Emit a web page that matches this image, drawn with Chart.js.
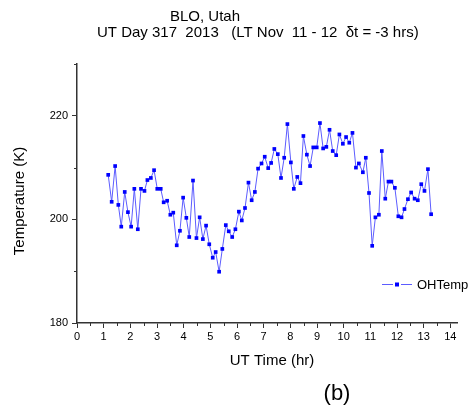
<!DOCTYPE html>
<html>
<head>
<meta charset="utf-8">
<script src="https://cdn.jsdelivr.net/npm/chart.js@4/dist/chart.umd.min.js"></script>
<style>
  body { margin: 0; background: #fff; }
  canvas { display: block; }
</style>
</head>
<body>
<canvas id="ohChart" width="474" height="410"></canvas>
<script>
// UT time (hr) of each OH temperature sample
var utTimes = [
  1.17, 1.30, 1.43, 1.55, 1.66, 1.79, 1.91, 2.03, 2.15, 2.28, 2.40, 2.53, 2.64, 2.77, 2.89, 3.01, 3.14, 3.25, 3.38, 3.50, 3.61, 3.74, 3.86, 3.98, 4.10, 4.21,
  4.35, 4.48, 4.60, 4.72, 4.84, 4.96, 5.09, 5.20, 5.33, 5.45, 5.58, 5.69, 5.82, 5.94, 6.07, 6.18, 6.30, 6.43, 6.55, 6.67, 6.79, 6.92, 7.04, 7.17, 7.28, 7.40,
  7.53, 7.65, 7.77, 7.89, 8.02, 8.13, 8.26, 8.38, 8.49, 8.62, 8.74, 8.86, 8.99, 9.11, 9.23, 9.35, 9.47, 9.59, 9.72, 9.84, 9.97, 10.09, 10.21, 10.33, 10.46, 10.57,
  10.72, 10.83, 10.95, 11.07, 11.19, 11.32, 11.43, 11.56, 11.68, 11.79, 11.92, 12.05, 12.17, 12.28, 12.41, 12.53, 12.66, 12.78, 12.91, 13.03, 13.16, 13.28
];

// OH temperature (K)
var ohTemp = [
  208.6, 203.4, 210.3, 202.8, 198.6, 205.3, 201.4, 198.6, 205.9, 198.1, 205.9, 205.5, 207.6, 208.0, 209.5, 205.9, 205.9, 203.3, 203.6, 200.9, 201.3, 195.0, 197.8, 204.2, 200.3, 196.6,
  207.5, 196.4, 200.4, 196.2, 198.8, 195.2, 192.6, 193.7, 189.9, 194.3, 198.9, 197.7, 196.6, 198.1, 201.5, 199.8, 202.2, 207.1, 203.7, 205.3, 209.8, 210.8, 212.1, 209.9, 210.9, 213.6,
  212.6, 208.0, 211.9, 218.4, 211.0, 205.9, 208.2, 207.0, 216.1, 212.5, 210.3, 213.9, 213.9, 218.6, 213.7, 214.0, 217.3, 213.2, 212.4, 216.4, 214.6, 215.9, 214.8, 216.7, 210.0, 210.8,
  209.1, 211.9, 205.1, 194.9, 200.4, 200.9, 213.2, 204.0, 207.3, 207.3, 206.1, 200.6, 200.4, 202.0, 203.9, 205.2, 204.0, 203.7, 206.8, 205.5, 209.7, 201.0
];

var seriesName = 'OHTemp';
var titleLines = ['BLO, Utah', 'UT Day 317  2013   (LT Nov  11 - 12  \u03B4t = -3 hrs)'];
var xTitle = 'UT Time (hr)';
var yTitle = 'Temperature (K)';
var panelLabel = '(b)';

var points = [];
for (var i = 0; i < utTimes.length; i++) {
  points.push({ x: utTimes[i], y: ohTemp[i] });
}

var FONT = '"Liberation Sans", Arial, sans-serif';
var AXIS = '#333';

// minor ticks, legend and all free text
var extras = {
  id: 'extras',
  afterDraw: function (chart) {
    var c = chart.ctx;
    var xs = chart.scales.x, ys = chart.scales.y;
    var area = chart.chartArea;
    c.save();

    // minor ticks halfway between major ones
    c.strokeStyle = AXIS;
    c.lineWidth = 1;
    c.beginPath();
    for (var t = 0; t < xs.ticks.length; t++) {
      var mx = xs.getPixelForValue(xs.ticks[t].value + 0.5);
      if (mx <= area.right) {
        c.moveTo(Math.round(mx) + 0.5, area.bottom);
        c.lineTo(Math.round(mx) + 0.5, area.bottom + 3);
      }
    }
    for (var k = 0; k < ys.ticks.length; k++) {
      var my = ys.getPixelForValue(ys.ticks[k].value + 10);
      if (my >= area.top - 1) {
        c.moveTo(area.left, Math.round(my) + 0.5);
        c.lineTo(area.left - 3, Math.round(my) + 0.5);
      }
    }
    c.stroke();

    c.fillStyle = '#000';
    c.textBaseline = 'middle';

    // titles
    c.font = '15px ' + FONT;
    c.textAlign = 'center';
    c.fillText(titleLines[0], 205, 17);
    c.textAlign = 'left';
    c.fillText(titleLines[1], 97, 33);

    // axis titles
    c.textAlign = 'center';
    c.fillText(xTitle, 272, 361);
    c.save();
    c.translate(20, 201);
    c.rotate(-Math.PI / 2);
    c.fillText(yTitle, 0, 0);
    c.restore();

    c.font = '22px ' + FONT;
    c.fillText(panelLabel, 337, 394);

    // legend: line - marker - line
    var ds = chart.data.datasets[0];
    var lx = area.right - 75, ly = 284;
    c.strokeStyle = ds.borderColor;
    c.lineWidth = 1;
    c.beginPath();
    c.moveTo(lx, ly + 0.5);
    c.lineTo(lx + 11, ly + 0.5);
    c.moveTo(lx + 19, ly + 0.5);
    c.lineTo(lx + 30, ly + 0.5);
    c.stroke();
    c.fillStyle = ds.pointBackgroundColor;
    c.fillRect(lx + 13, ly - 1.5, 4, 4);
    c.fillStyle = '#000';
    c.font = '13px ' + FONT;
    c.textAlign = 'left';
    c.fillText(seriesName, lx + 35, ly + 1);

    c.restore();
  }
};

var ctx = document.getElementById('ohChart');

var ohChart = new Chart(ctx, {
  type: 'line',
  data: {
    datasets: [{
      label: seriesName,
      data: points,
      borderColor: '#5c5cff',
      borderWidth: 1,
      pointStyle: 'rect',
      pointRadius: 2.6,
      pointBorderWidth: 0,
      pointBackgroundColor: '#0000ff',
      pointBorderColor: '#0000ff',
      tension: 0,
      fill: false
    }]
  },
  options: {
    responsive: false,
    animation: false,
    layout: { padding: { left: 0, right: 17, top: 64, bottom: 0 } },
    plugins: {
      legend: { display: false },
      title: { display: false },
      tooltip: { enabled: false }
    },
    scales: {
      x: {
        type: 'linear',
        min: 0,
        max: 14.25,
        afterFit: function (scale) { scale.height = 87; },
        border: { color: AXIS, width: 1.5 },
        grid: { drawOnChartArea: false, drawTicks: true, tickLength: 5, tickColor: AXIS, tickWidth: 1 },
        ticks: {
          stepSize: 1,
          includeBounds: false,
          autoSkip: false,
          maxRotation: 0,
          padding: 2,
          color: '#000',
          font: { family: FONT, size: 11 }
        }
      },
      y: {
        min: 180,
        max: 230,
        afterFit: function (scale) { scale.width = 77; },
        border: { color: AXIS, width: 1.5 },
        grid: { drawOnChartArea: false, drawTicks: true, tickLength: 5, tickColor: AXIS, tickWidth: 1 },
        ticks: {
          stepSize: 20,
          includeBounds: false,
          padding: 4,
          color: '#000',
          font: { family: FONT, size: 11 }
        }
      }
    }
  },
  plugins: [extras]
});
</script>
</body>
</html>
